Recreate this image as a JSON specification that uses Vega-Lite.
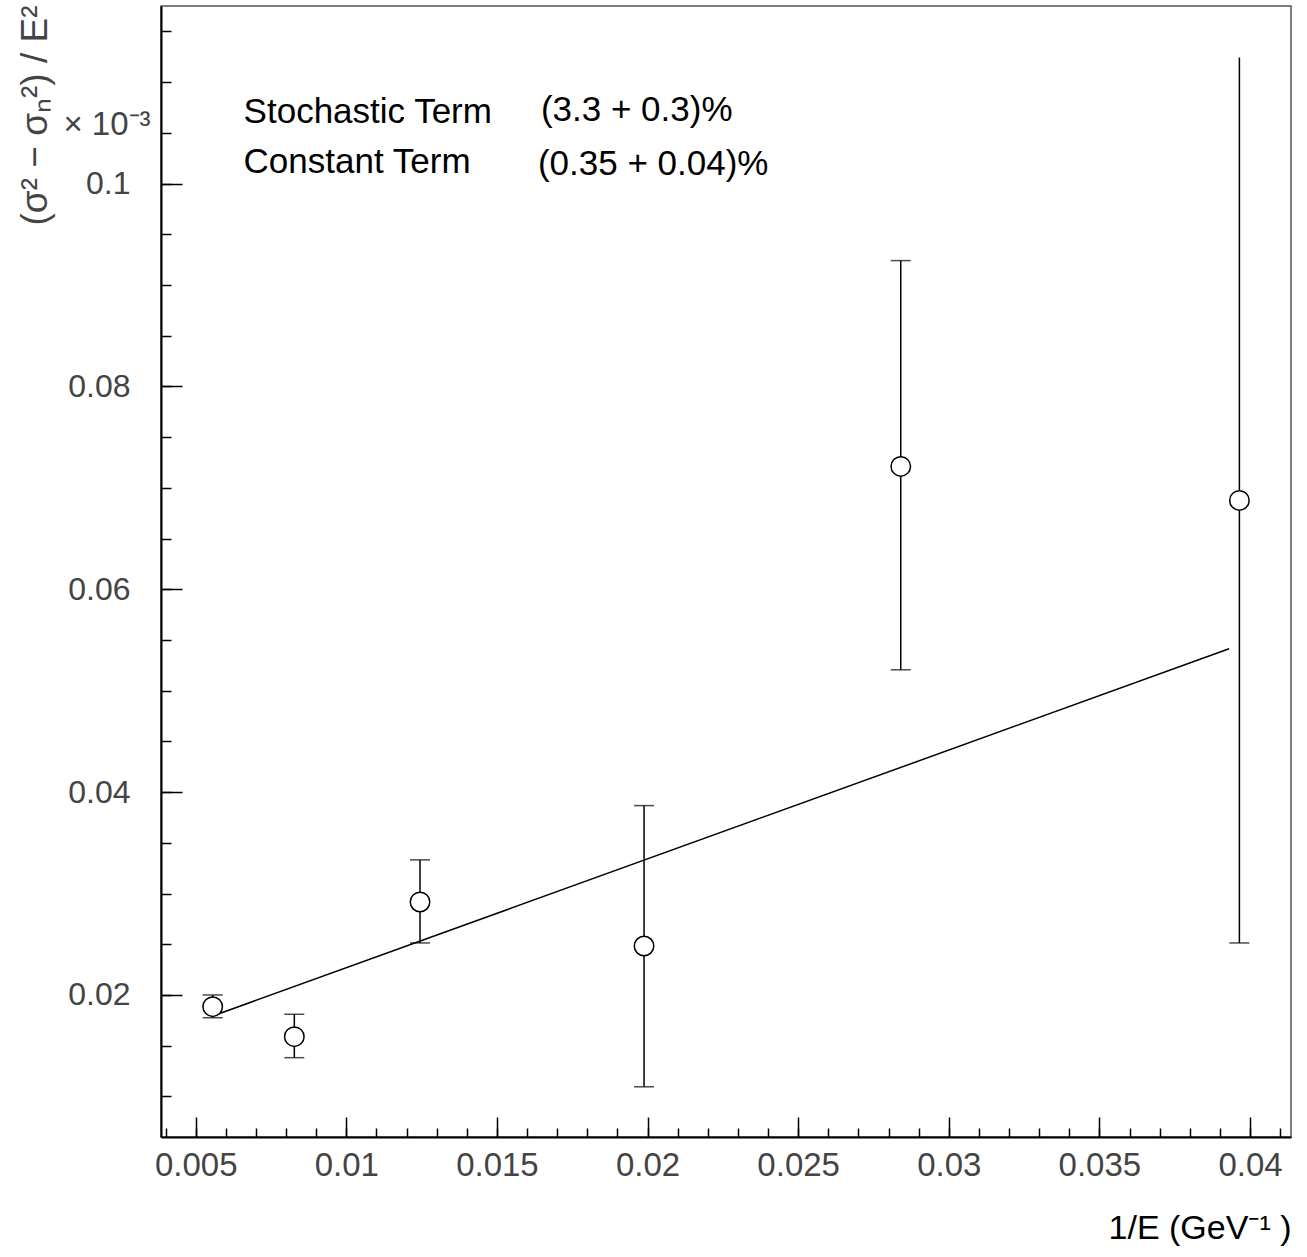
{
  "$schema": "https://vega.github.io/schema/vega-lite/v6.json",
  "autosize": {"type": "none"},
  "padding": {"left": 161, "top": 6, "right": 16, "bottom": 120},
  "width": 1130,
  "height": 1131,
  "background": "white",
  "config": {
    "view": {"stroke": "#555555", "strokeWidth": 1.5},
    "font": "Liberation Sans"
  },
  "datasets": {
    "pts": [
      {"x": 0.005564, "y": 0.01885, "lo": 0.01776, "hi": 0.0200, "capHi": 0.0200},
      {"x": 0.008274, "y": 0.01589, "lo": 0.01382, "hi": 0.01810, "capHi": 0.01810},
      {"x": 0.012447, "y": 0.02917, "lo": 0.02513, "hi": 0.03332, "capHi": 0.03332},
      {"x": 0.019884, "y": 0.02483, "lo": 0.01095, "hi": 0.03867, "capHi": 0.03867},
      {"x": 0.028406, "y": 0.07211, "lo": 0.05206, "hi": 0.0924, "capHi": 0.0924},
      {"x": 0.039648, "y": 0.06876, "lo": 0.02513, "hi": 0.11243, "capHi": null}
    ],
    "fit": [
      {"x": 0.005564, "y": 0.01793},
      {"x": 0.039306, "y": 0.05413}
    ],
    "notes": [
      {"x": 0.00659, "y": 0.10592, "label": "Stochastic Term"},
      {"x": 0.01646, "y": 0.10621, "label": "(3.3 + 0.3)%"},
      {"x": 0.00659, "y": 0.10099, "label": "Constant Term"},
      {"x": 0.01636, "y": 0.10079, "label": "(0.35 + 0.04)%"}
    ],
    "scale": [
      {"x": 0.0035, "y": 0.10483, "label": "× 10⁻³"}
    ]
  },
  "resolve": {"axis": {"x": "independent", "y": "independent"}},
  "layer": [
    {
      "data": {"name": "pts"},
      "mark": {"type": "rule", "color": "black", "strokeWidth": 1.5},
      "encoding": {
        "x": {
          "field": "x", "type": "quantitative",
          "scale": {"domain": [0.003848, 0.041361], "nice": false, "zero": false},
          "axis": {
            "orient": "bottom",
            "values": [0.004, 0.005, 0.006, 0.007, 0.008, 0.009, 0.010, 0.011, 0.012, 0.013, 0.014, 0.015, 0.016, 0.017, 0.018, 0.019, 0.020, 0.021, 0.022, 0.023, 0.024, 0.025, 0.026, 0.027, 0.028, 0.029, 0.030, 0.031, 0.032, 0.033, 0.034, 0.035, 0.036, 0.037, 0.038, 0.039, 0.040, 0.041],
            "labels": false, "grid": false, "title": null,
            "domain": true, "domainColor": "black", "domainWidth": 2,
            "ticks": true, "tickSize": -9, "tickColor": "black", "tickWidth": 1.5
          }
        },
        "y": {
          "field": "lo", "type": "quantitative",
          "scale": {"domain": [0.006, 0.1175], "nice": false, "zero": false},
          "axis": {
            "orient": "left",
            "values": [0.010, 0.015, 0.020, 0.025, 0.030, 0.035, 0.040, 0.045, 0.050, 0.055, 0.060, 0.065, 0.070, 0.075, 0.080, 0.085, 0.090, 0.095, 0.100, 0.105, 0.110, 0.115],
            "labels": false, "grid": false, "title": null,
            "domain": true, "domainColor": "black", "domainWidth": 2,
            "ticks": true, "tickSize": -10, "tickColor": "black", "tickWidth": 1.5
          }
        },
        "y2": {"field": "hi"}
      }
    },
    {
      "data": {"name": "pts"},
      "mark": {"type": "tick", "orient": "horizontal", "size": 20, "thickness": 1.5, "color": "black"},
      "encoding": {
        "x": {"field": "x", "type": "quantitative", "axis": null},
        "y": {"field": "capHi", "type": "quantitative", "axis": null}
      }
    },
    {
      "data": {"name": "pts"},
      "mark": {"type": "tick", "orient": "horizontal", "size": 20, "thickness": 1.5, "color": "black"},
      "encoding": {
        "x": {"field": "x", "type": "quantitative", "axis": null},
        "y": {"field": "lo", "type": "quantitative", "axis": null}
      }
    },
    {
      "data": {"name": "fit"},
      "mark": {"type": "line", "color": "black", "strokeWidth": 1.5},
      "encoding": {
        "x": {"field": "x", "type": "quantitative", "axis": null},
        "y": {"field": "y", "type": "quantitative", "axis": null}
      }
    },
    {
      "data": {"name": "pts"},
      "mark": {"type": "point", "shape": "circle", "filled": true, "fill": "white", "stroke": "black", "strokeWidth": 1.5, "opacity": 1, "size": 380},
      "encoding": {
        "x": {
          "field": "x", "type": "quantitative",
          "axis": {
            "orient": "bottom",
            "values": [0.005, 0.01, 0.015, 0.02, 0.025, 0.03, 0.035, 0.04],
            "format": ".3~f",
            "grid": false, "domain": false,
            "ticks": true, "tickSize": -20, "tickColor": "black", "tickWidth": 1.5,
            "labelPadding": 32, "labelFontSize": 33, "labelFont": "Liberation Sans", "labelColor": "#444444",
            "labelFlush": false, "labelOverlap": false, "labelBound": false,
            "title": "1/E (GeV⁻¹ )",
            "titleFont": "Liberation Sans", "titleFontSize": 34, "titleFontWeight": "normal", "titleColor": "black",
            "titleAnchor": "end", "titleAlign": "right", "titleBaseline": "alphabetic",
            "titleX": 1130, "titleY": 101
          }
        },
        "y": {
          "field": "y", "type": "quantitative",
          "axis": {
            "orient": "left",
            "values": [0.02, 0.04, 0.06, 0.08, 0.1],
            "format": ".2~f",
            "grid": false, "domain": false,
            "ticks": true, "tickSize": -21, "tickColor": "black", "tickWidth": 1.5,
            "labelPadding": 52, "labelFontSize": 32, "labelFont": "Liberation Sans", "labelColor": "#444444",
            "labelFlush": false, "labelOverlap": false, "labelBound": false,
            "title": "(σ² − σₙ²) / E²",
            "titleFont": "Liberation Sans", "titleFontSize": 37, "titleFontWeight": "normal", "titleColor": "#444444",
            "titleAngle": 270, "titleAlign": "right", "titleBaseline": "alphabetic",
            "titleX": -115, "titleY": -1
          }
        }
      }
    },
    {
      "data": {"name": "notes"},
      "mark": {"type": "text", "align": "left", "baseline": "alphabetic", "font": "Liberation Sans", "fontSize": 35, "color": "black"},
      "encoding": {
        "x": {"field": "x", "type": "quantitative", "axis": null},
        "y": {"field": "y", "type": "quantitative", "axis": null},
        "text": {"field": "label"}
      }
    },
    {
      "data": {"name": "scale"},
      "mark": {"type": "text", "align": "right", "baseline": "alphabetic", "font": "Liberation Sans", "fontSize": 33, "color": "#444444"},
      "encoding": {
        "x": {"field": "x", "type": "quantitative", "axis": null},
        "y": {"field": "y", "type": "quantitative", "axis": null},
        "text": {"field": "label"}
      }
    }
  ]
}
